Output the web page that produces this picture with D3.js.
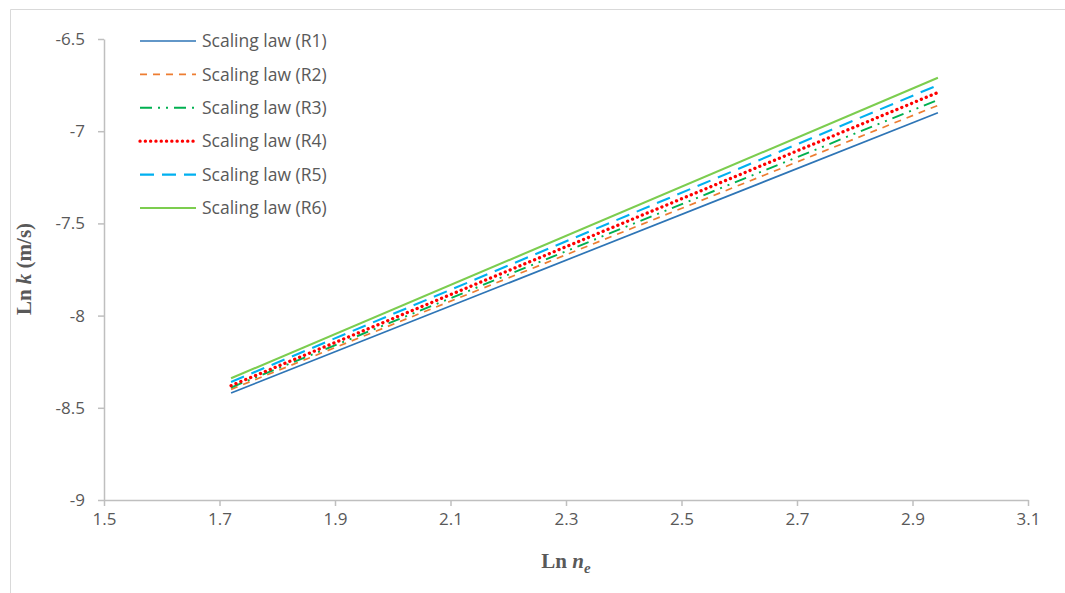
<!DOCTYPE html>
<html>
<head>
<meta charset="utf-8">
<script src="https://cdn.jsdelivr.net/npm/d3@7"></script>
<style>
  html, body { margin: 0; padding: 0; background: #fff; }
  svg { display: block; }
</style>
</head>
<body>
<svg id="chart" width="1065" height="593"></svg>
<script>
// Ln n_e range covered by each scaling law
const lnNe = [1.72, 2.944];

// Ln k (m/s) at the two ends of each line
const seriesNames = ["Scaling law (R1)", "Scaling law (R2)", "Scaling law (R3)",
                     "Scaling law (R4)", "Scaling law (R5)", "Scaling law (R6)"];
const r1 = [-8.42, -6.90];
const r2 = [-8.40, -6.86];
const r3 = [-8.39, -6.83];
const r4 = [-8.38, -6.79];
const r5 = [-8.36, -6.75];
const r6 = [-8.34, -6.71];

const xTicks = [1.5, 1.7, 1.9, 2.1, 2.3, 2.5, 2.7, 2.9, 3.1];
const yTicks = [-6.5, -7, -7.5, -8, -8.5, -9];

const seriesValues = [r1, r2, r3, r4, r5, r6];

// line styles per series
const styles = [
  { color: "#2e75b6", dash: null,          width: 1.7, cap: "butt" },
  { color: "#ed7d31", dash: "7,6",         width: 1.7, cap: "butt" },
  { color: "#00b050", dash: "12,6,2,6,2,6", width: 1.9, cap: "butt" },
  { color: "#ff0000", dash: "0.1,5.2",     width: 3.3, cap: "round" },
  { color: "#00b0f0", dash: "14,8",        width: 2.1, cap: "butt" },
  { color: "#7ccd4f", dash: null,          width: 2.1, cap: "butt" }
];

const svg = d3.select("#chart");

// outer frame
svg.append("path")
  .attr("d", "M10.5,593 V9.5 H1065")
  .attr("fill", "none")
  .attr("stroke", "#d9d9d9")
  .attr("stroke-width", 1);

const x = d3.scaleLinear().domain([1.5, 3.1]).range([104, 1028]);
const y = d3.scaleLinear().domain([-9, -6.5]).range([500, 39]);

const axisColor = "#bfbfbf";
const textColor = "#595959";
const tickFont = "'Open Sans', Lato, sans-serif";

// x axis
const gx = svg.append("g")
  .attr("transform", "translate(0,500)")
  .call(d3.axisBottom(x).tickValues(xTicks).tickSize(6).tickSizeOuter(0)
        .tickFormat(d => d3.format(".1f")(d)));
gx.select(".domain").attr("stroke", axisColor).attr("stroke-width", 1.5);
gx.selectAll(".tick line").attr("stroke", axisColor).attr("stroke-width", 1.5);
gx.selectAll(".tick text")
  .attr("fill", textColor).attr("font-family", tickFont).attr("font-size", 17)
  .attr("y", 13);

// y axis
const gy = svg.append("g")
  .attr("transform", "translate(104,0)")
  .call(d3.axisLeft(y).tickValues(yTicks).tickSize(6).tickSizeOuter(0)
        .tickFormat(d => String(d)));
gy.select(".domain").attr("stroke", axisColor).attr("stroke-width", 1.5);
gy.selectAll(".tick line").attr("stroke", axisColor).attr("stroke-width", 1.5);
gy.selectAll(".tick text")
  .attr("fill", textColor).attr("font-family", tickFont).attr("font-size", 17)
  .attr("x", -19);

// axis titles
const yTitle = svg.append("text")
  .attr("transform", "translate(31,269) rotate(-90)")
  .attr("text-anchor", "middle")
  .attr("fill", textColor)
  .attr("font-family", "'Liberation Serif', 'Times New Roman', serif")
  .attr("font-weight", "bold")
  .attr("font-size", 21);
yTitle.append("tspan").text("Ln ");
yTitle.append("tspan").attr("font-style", "italic").text("k");
yTitle.append("tspan").text(" (m/s)");

const xTitle = svg.append("text")
  .attr("x", 566).attr("y", 568)
  .attr("text-anchor", "middle")
  .attr("fill", textColor)
  .attr("font-family", "'Liberation Serif', 'Times New Roman', serif")
  .attr("font-weight", "bold")
  .attr("font-size", 21);
xTitle.append("tspan").text("Ln ");
xTitle.append("tspan").attr("font-style", "italic").text("n");
xTitle.append("tspan").attr("font-style", "italic").attr("font-size", 15)
  .attr("dy", 5).text("e");

// series lines
const line = d3.line().x(d => x(d[0])).y(d => y(d[1]));
const plot = svg.append("g");
seriesValues.forEach((vals, i) => {
  const s = styles[i];
  plot.append("path")
    .datum(lnNe.map((v, j) => [v, vals[j]]))
    .attr("d", line)
    .attr("fill", "none")
    .attr("stroke", s.color)
    .attr("stroke-width", s.width)
    .attr("stroke-linecap", s.cap)
    .attr("stroke-dasharray", s.dash);
});

// legend
const legend = svg.append("g");
seriesNames.forEach((name, i) => {
  const s = styles[i];
  const ly = 41 + i * 33.4;
  legend.append("line")
    .attr("x1", 140).attr("x2", 196)
    .attr("y1", ly).attr("y2", ly)
    .attr("stroke", s.color)
    .attr("stroke-width", s.width)
    .attr("stroke-linecap", s.cap)
    .attr("stroke-dasharray", s.dash);
  legend.append("text")
    .attr("x", 202).attr("y", ly)
    .attr("dy", "0.35em")
    .attr("fill", textColor)
    .attr("font-family", tickFont)
    .attr("font-size", 17.5)
    .text(name);
});
</script>
</body>
</html>
